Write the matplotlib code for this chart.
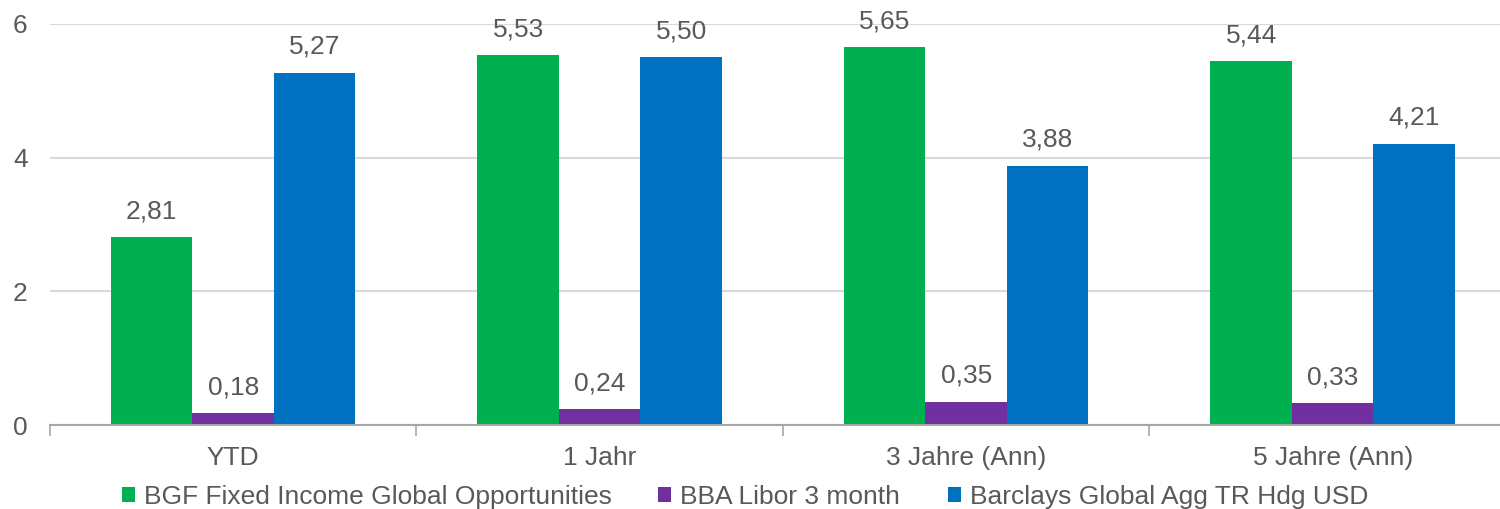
import numpy as np
import matplotlib.pyplot as plt
from matplotlib.ticker import FixedLocator

plt.rcParams['font.family'] = ['Liberation Sans', 'DejaVu Sans']

categories = ['YTD', '1 Jahr', '3 Jahre (Ann)', '5 Jahre (Ann)']
series_names = ['BGF Fixed Income Global Opportunities', 'BBA Libor 3 month',
                'Barclays Global Agg TR Hdg USD']
bgf = [2.81, 5.53, 5.65, 5.44]
libor = [0.18, 0.24, 0.35, 0.33]
barclays = [5.27, 5.50, 3.88, 4.21]
colors = ['#00b050', '#7030a0', '#0070c0']
text_col = '#595959'

fig = plt.figure(figsize=(15, 5.09), dpi=100)
# plot area runs a little past the right edge of the canvas
ax = fig.add_axes([0.0333, 0.165, 0.9773, 0.788])

x = np.arange(len(categories))
w = 0.2224
handles = []
for i, (vals, name, c) in enumerate(zip([bgf, libor, barclays], series_names, colors)):
    pos = x + (i - 1) * w
    b = ax.bar(pos, vals, width=w, color=c, label=name, zorder=3)
    handles.append(b)
    for p, v in zip(pos, vals):
        ax.annotate(f'{v:.2f}'.replace('.', ','), (p, v), xytext=(0, 10),
                    textcoords='offset points', ha='center', va='bottom',
                    fontsize=19, color=text_col)

ax.set_xlim(-0.5, 3.5)
ax.set_ylim(0, 6)
ax.set_yticks([0, 2, 4, 6])
ax.yaxis.grid(True, color='#d9d9d9', linewidth=1.5, zorder=0)
ax.set_xticks(x)
ax.set_xticklabels(categories)
ax.xaxis.set_minor_locator(FixedLocator([-0.5, 0.5, 1.5, 2.5]))
ax.tick_params(axis='x', which='major', length=0, pad=15, labelsize=19, labelcolor=text_col)
ax.tick_params(axis='x', which='minor', length=8, width=1.2, color='#a6a6a6')
ax.tick_params(axis='y', length=0, pad=16, labelsize=19, labelcolor=text_col)

for s in ['top', 'right', 'left']:
    ax.spines[s].set_visible(False)
ax.spines['bottom'].set_color('#a6a6a6')
ax.spines['bottom'].set_linewidth(1.5)
ax.spines['bottom'].set_zorder(4)

# one legend per series so each entry sits at its own spot
for h, name, lx in zip(handles, series_names, [0.0813, 0.4387, 0.632]):
    leg = fig.legend([h], [name], loc='center left', bbox_to_anchor=(lx, 0.024),
                     frameon=False, fontsize=19, labelcolor=text_col,
                     handlelength=0.5, handleheight=0.5, handletextpad=0.35,
                     borderpad=0, borderaxespad=0)

fig.savefig('out.png', dpi=100)
